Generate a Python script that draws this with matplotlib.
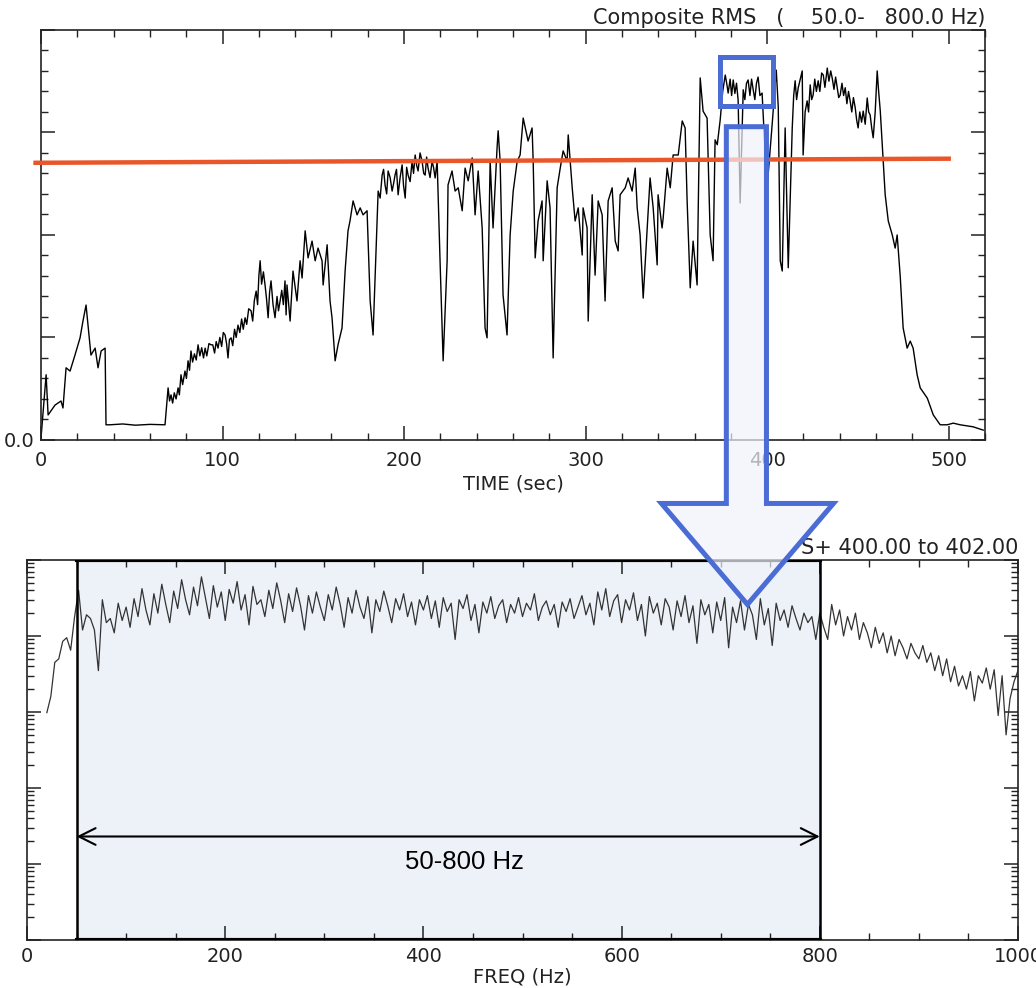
import matplotlib.pyplot as plt
import numpy as np
from matplotlib.patches import Polygon, Rectangle
from matplotlib.ticker import MultipleLocator, LogLocator, NullFormatter

# ---- top panel: composite RMS vs time ----
time_s = [0.0, 2.8, 3.9, 7.7, 11.0, 12.1, 13.8, 16.0, 18.7, 21.5, 23.1, 24.8, 25.9, 27.5, 29.8,
          31.4, 33.1, 35.3, 35.8, 38.0, 45.0, 52.0, 60.0, 68.3,
          70.0, 71.6, 75.5, 77.1, 79.3, 81.0, 82.6, 86.5, 90.4, 93.7, 97.5, 101.4, 103.0, 104.7,
          108.5, 112.4, 115.7, 118.5, 120.7, 123.4, 125.1, 126.7, 128.9, 131.7, 134.4, 135.0,
          135.5, 137.2, 138.8, 141.0, 142.7, 143.8, 145.5, 147.1, 149.3, 151.0, 152.6, 154.8,
          155.4, 157.6, 159.2, 160.3, 162.0, 163.6, 165.8, 167.5, 169.1, 170.2, 171.9, 174.1,
          175.8, 177.4, 179.6, 181.3, 182.9, 185.1, 185.7, 187.9, 189.5, 191.2, 193.4, 195.0,
          196.7, 198.9, 200.6, 202.2, 204.4, 206.1, 207.7, 209.9, 211.6, 213.2, 215.4, 217.1,
          218.2, 219.8, 221.5, 223.7, 224.2, 226.4, 228.1, 229.8, 232.0, 233.6, 235.3, 237.5,
          239.1, 240.8, 243.0, 244.6, 245.7, 247.4, 249.0, 251.2, 251.8, 252.9, 254.5, 256.7,
          258.4, 260.1, 262.3, 263.9, 265.6, 268.3, 270.5, 271.1, 272.2, 273.8, 276.0, 276.6,
          278.8, 280.4, 282.1, 284.3, 286.0, 287.6, 289.8, 290.4, 292.6, 294.2, 295.9, 298.1,
          298.6, 300.8, 301.4, 303.6, 305.2, 306.9, 309.1, 310.7, 312.4, 314.6, 316.3, 317.9,
          319.0, 321.8, 323.4, 325.6, 327.3, 328.4, 330.0, 331.7, 333.9, 335.5, 337.2, 339.4,
          339.9, 342.1, 342.7, 344.9, 346.6, 348.2, 351.0, 353.2, 354.8, 355.9, 357.6, 359.2,
          361.4, 363.1, 364.7, 366.9, 368.6, 370.2, 371.3, 372.5, 374.1, 376.9, 378.5, 381.3,
          384.0, 385.1, 386.8, 389.5, 392.3, 395.0, 397.2, 398.3, 400.0, 402.8, 405.0, 406.1,
          407.2, 408.3, 409.9, 411.6, 413.8, 415.4, 417.1, 419.3, 419.8, 422.0, 423.7, 425.3,
          428.1, 430.9, 433.1, 435.8, 438.6, 440.2, 443.0, 445.7, 448.5, 450.1, 452.9, 455.1,
          456.7, 458.4, 460.6, 462.3, 463.4, 465.0, 466.7, 468.9, 470.5, 471.6, 473.3, 474.9,
          477.1, 478.8, 480.4, 482.6, 484.3, 488.2, 491.5, 495.3, 499.2, 502.5, 506.3, 513.5, 519.0]
rms = [0.005, 0.159, 0.061, 0.085, 0.095, 0.078, 0.176, 0.168, 0.207, 0.249, 0.290, 0.329, 0.280, 0.207, 0.224,
       0.176, 0.217, 0.224, 0.037, 0.037, 0.039, 0.036, 0.038, 0.037,
       0.127, 0.110, 0.127, 0.159, 0.168, 0.193, 0.217, 0.232, 0.224, 0.232, 0.224, 0.256, 0.200, 0.249,
       0.280, 0.298, 0.315, 0.363, 0.437, 0.378, 0.298, 0.388, 0.298, 0.339, 0.388, 0.305,
       0.378, 0.290, 0.412, 0.339, 0.437, 0.395, 0.510, 0.444, 0.485, 0.437, 0.468, 0.437,
       0.378, 0.476, 0.339, 0.298, 0.193, 0.232, 0.273, 0.412, 0.510, 0.534, 0.583, 0.549,
       0.566, 0.549, 0.559, 0.339, 0.256, 0.534, 0.607, 0.646, 0.622, 0.656, 0.607, 0.646,
       0.598, 0.671, 0.590, 0.646, 0.680, 0.695, 0.656, 0.680, 0.646, 0.663, 0.680, 0.639,
       0.680, 0.437, 0.193, 0.437, 0.622, 0.656, 0.607, 0.615, 0.559, 0.663, 0.632, 0.688,
       0.549, 0.656, 0.517, 0.273, 0.249, 0.680, 0.517, 0.712, 0.754, 0.680, 0.354, 0.256,
       0.500, 0.607, 0.680, 0.695, 0.785, 0.729, 0.761, 0.680, 0.444, 0.534, 0.583, 0.437,
       0.632, 0.566, 0.200, 0.615, 0.663, 0.705, 0.680, 0.744, 0.615, 0.534, 0.566, 0.451,
       0.566, 0.517, 0.290, 0.598, 0.402, 0.583, 0.549, 0.339, 0.583, 0.615, 0.485, 0.461,
       0.598, 0.615, 0.639, 0.607, 0.663, 0.566, 0.500, 0.346, 0.517, 0.639, 0.566, 0.427,
       0.598, 0.517, 0.541, 0.663, 0.615, 0.695, 0.695, 0.778, 0.761, 0.583, 0.371, 0.485,
       0.378, 0.883, 0.802, 0.785, 0.500, 0.437, 0.732, 0.720, 0.780, 0.890, 0.846, 0.878,
       0.829, 0.578, 0.854, 0.878, 0.854, 0.885, 0.846, 0.749, 0.617, 0.773, 0.902, 0.812,
       0.437, 0.412, 0.761, 0.420, 0.761, 0.876, 0.859, 0.900, 0.695, 0.827, 0.866, 0.841,
       0.876, 0.890, 0.907, 0.883, 0.859, 0.841, 0.859, 0.827, 0.810, 0.761, 0.802, 0.834,
       0.793, 0.737, 0.900, 0.802, 0.720, 0.598, 0.534, 0.500, 0.468, 0.500, 0.398, 0.273,
       0.224, 0.241, 0.224, 0.159, 0.127, 0.102, 0.061, 0.037, 0.037, 0.041, 0.037, 0.032, 0.024]

time_fine = [70.8, 72.5, 73.4, 74.4, 76.2, 78.0, 80.1, 81.8, 83.5, 84.5, 85.5, 87.5, 88.5, 89.5,
             91.3, 92.5, 94.6, 95.6, 96.5, 98.5, 99.5, 100.4, 102.2, 103.8, 105.6, 106.6, 107.5,
             109.5, 110.5, 111.4, 113.3, 114.4, 116.6, 117.5, 119.3, 120.0, 121.5, 122.5, 124.2,
             125.9, 127.8, 130.0, 130.8, 132.6, 133.5,
             186.8, 188.7, 190.4, 192.3, 194.2, 195.8, 197.8, 199.7, 201.4, 203.3, 205.2, 206.9,
             208.8, 210.8, 212.4, 214.3, 216.2,
             375.5, 377.7, 379.6, 380.4, 382.2, 383.1, 387.7, 388.6, 390.5, 391.4, 393.2, 394.1, 396.0,
             414.6, 416.2, 418.2, 420.9, 422.8, 424.5, 426.2, 427.1, 429.0, 430.0, 431.8, 434.0,
             435.0, 436.8, 437.7, 439.4, 441.2, 442.1, 443.9, 444.8, 446.6, 447.5, 449.3, 451.0,
             452.0, 454.0, 455.9, 457.6, 459.5, 461.4]
rms_fine = [0.095, 0.090, 0.115, 0.100, 0.110, 0.135, 0.150, 0.170, 0.190, 0.210, 0.195, 0.205, 0.225, 0.200,
            0.205, 0.235, 0.232, 0.212, 0.240, 0.250, 0.228, 0.262, 0.235, 0.245, 0.230, 0.270, 0.250,
            0.262, 0.295, 0.270, 0.282, 0.320, 0.290, 0.340, 0.330, 0.400, 0.380, 0.410, 0.345,
            0.360, 0.330, 0.350, 0.315, 0.365, 0.330,
            0.590, 0.660, 0.600, 0.640, 0.625, 0.660, 0.640, 0.620, 0.665, 0.630, 0.650, 0.670,
            0.700, 0.650, 0.690, 0.640, 0.665,
            0.850, 0.870, 0.880, 0.840, 0.845, 0.870, 0.830, 0.870, 0.840, 0.880, 0.830, 0.870, 0.840,
            0.840, 0.830, 0.880, 0.800, 0.800, 0.830, 0.880, 0.850, 0.850, 0.895, 0.860, 0.875,
            0.900, 0.855, 0.885, 0.835, 0.870, 0.840, 0.820, 0.850, 0.800, 0.835, 0.780, 0.800,
            0.775, 0.770, 0.800, 0.760, 0.800, 0.850]

threshold_t = [-3, 500]
threshold_v = [0.676, 0.686]

# ---- bottom panel: spectrum 400.00 to 402.00 s, 4 Hz bins starting at 20 Hz ----
f_start, f_step = 20, 4
spectrum = [0.098, 0.16, 0.45, 0.50, 0.85, 0.95, 0.65, 1.8,
            4.0, 1.2, 1.9, 1.7, 1.2, 0.35, 3.0, 1.5, 1.7, 1.1, 2.7, 1.6,
            2.4, 1.3, 3.1, 1.8, 4.2, 2.2, 1.4, 3.6, 2.0, 4.8, 2.6, 1.5, 3.9, 2.3, 5.5, 3.0, 1.9, 4.4, 2.5, 6.0, 3.2, 1.7, 4.6, 2.4, 3.8,
            1.6, 4.1, 2.7, 5.2, 2.2, 3.5, 1.4, 4.5, 2.6, 3.0, 1.8, 4.0, 2.3, 5.0, 2.9, 1.5, 3.6, 2.1, 4.3, 2.5, 1.2, 3.4, 2.0, 3.8, 2.4,
            1.6, 3.5, 2.2, 4.4, 2.6, 1.3, 3.2, 2.0, 4.0, 2.4, 1.7, 3.3, 1.1, 3.0, 2.1, 3.9, 2.5, 1.5, 3.1, 2.2, 3.6, 1.8, 2.8, 1.4, 3.0,
            2.2, 3.4, 1.7, 2.9, 1.3, 3.2, 2.1, 2.7, 0.9, 3.0, 2.3, 3.5, 1.6, 2.6, 1.1, 2.8, 2.0, 3.3, 1.7, 2.5, 3.0, 1.5, 2.6, 2.0, 3.2,
            1.8, 2.7, 2.2, 3.6, 1.6, 2.4, 2.9, 1.9, 2.6, 1.3, 2.8, 2.1, 3.1, 1.7, 2.4, 3.4, 1.9, 2.7, 1.4, 3.8, 2.2, 4.2, 1.8, 2.9, 3.5,
            1.5, 3.0, 2.2, 3.7, 1.6, 2.6, 1.0, 3.3, 2.0, 2.7, 1.4, 3.1, 2.4, 1.2, 2.9, 1.8, 3.4, 1.5, 2.5, 0.8, 3.0, 1.9, 2.6, 1.1, 2.8,
            1.6, 3.2, 0.7, 2.4, 1.5, 2.9, 1.2, 2.6, 1.9, 0.9, 3.1, 1.4, 2.3, 0.75, 2.7, 1.6, 2.2, 1.3, 2.5, 1.7, 1.2, 2.0, 1.5, 1.8, 0.9,
            2.0, 1.3, 0.9, 2.6, 1.4, 2.2, 1.0, 1.8, 1.2, 2.0, 0.9, 1.5, 1.1, 0.7, 1.3, 0.8, 1.1, 0.6, 1.0, 0.55, 0.9, 0.7, 0.5, 0.8, 0.6,
            0.5, 0.75, 0.45, 0.6, 0.35, 0.55, 0.3, 0.5, 0.25, 0.4, 0.22, 0.3, 0.2, 0.34, 0.14, 0.3, 0.24, 0.38, 0.2, 0.36, 0.09, 0.3, 0.05, 0.15, 0.25, 0.35]
freq = f_start + f_step * np.arange(len(spectrum))

band_lo, band_hi = 50, 800
band_label = "50-800 Hz"

BLUE = '#4a6cd4'
RED = '#e8562a'
INK = '#222222'

# merge coarse and fine readings in time order
t_all = np.array(time_s + time_fine)
v_all = np.array(rms + rms_fine)
order = np.argsort(t_all)
t_all, v_all = t_all[order], v_all[order]

plt.rcParams['font.family'] = ['DejaVu Sans']
fig = plt.figure(figsize=(10.36, 9.88), dpi=100)

# ---------------- top axes ----------------
ax1 = fig.add_axes([0.0396, 0.5547, 0.9112, 0.4150])
ax1.plot(t_all, v_all, color='black', lw=1.0)
ax1.plot(threshold_t, threshold_v, color=RED, lw=3.2, clip_on=False, zorder=4)
ax1.set_xlim(0, 520)
ax1.set_ylim(0, 1.0)
ax1.xaxis.set_major_locator(MultipleLocator(100))
ax1.xaxis.set_minor_locator(MultipleLocator(20))
ax1.yaxis.set_minor_locator(MultipleLocator(0.05))
ax1.set_yticks([0, 0.25, 0.5, 0.75, 1.0])
ax1.set_yticklabels(['0.0', '', '', '', ''])
ax1.set_xlabel('TIME (sec)', fontsize=14, color=INK, labelpad=3)
ax1.set_title('Composite RMS   (    50.0-   800.0 Hz)', loc='right', fontsize=15, color=INK, pad=4)

# small box around the selected window
ax1.add_patch(Rectangle((374.1, 0.815), 29.2, 0.119, fill=False, ec=BLUE, lw=3.6,
                        clip_on=False, zorder=6))

# ---------------- bottom axes ----------------
ax2 = fig.add_axes([0.0261, 0.0486, 0.9565, 0.3846])
ax2.axvspan(band_lo, band_hi, color='#edf1f8', zorder=0)
ax2.plot(freq, spectrum, color='#333333', lw=0.9, zorder=2)
ax2.axvline(band_lo, color='black', lw=1.8, zorder=3)
ax2.axvline(band_hi, color='black', lw=1.8, zorder=3)
ax2.plot([band_lo, band_hi], [10, 10], color='black', lw=3, zorder=3)
ax2.plot([band_lo, band_hi], [1e-4, 1e-4], color='black', lw=3, zorder=3)
ax2.set_yscale('log')
ax2.set_xlim(0, 1000)
ax2.set_ylim(1e-4, 10)
ax2.xaxis.set_major_locator(MultipleLocator(200))
ax2.xaxis.set_minor_locator(MultipleLocator(50))
ax2.yaxis.set_major_locator(LogLocator(base=10, numticks=10))
ax2.yaxis.set_minor_locator(LogLocator(base=10, subs=np.arange(2, 10), numticks=10))
ax2.yaxis.set_major_formatter(NullFormatter())
ax2.yaxis.set_minor_formatter(NullFormatter())
ax2.set_xlabel('FREQ (Hz)', fontsize=14, color=INK, labelpad=1)
ax2.set_title('S+ 400.00 to 402.00', loc='right', fontsize=15, color=INK, pad=4)

ax2.annotate('', xy=(band_hi, 2.3e-3), xytext=(band_lo, 2.3e-3),
             arrowprops=dict(arrowstyle='<->', color='black', lw=1.5, mutation_scale=30,
                             shrinkA=0, shrinkB=0), zorder=5)
ax2.text(441, 1.07e-3, band_label, ha='center', va='center',
         fontsize=18.5, family='Liberation Sans', color='black')

for ax in (ax1, ax2):
    ax.tick_params(which='both', direction='in', top=True, right=True, colors=INK,
                   labelsize=14, pad=5)
    ax.tick_params(which='major', length=10, width=1.1)
    ax.tick_params(which='minor', length=5, width=1.0)
    for s in ax.spines.values():
        s.set_linewidth(1.2)
        s.set_color(INK)
ax1.tick_params(axis='x', which='both', pad=8)

# ---------------- big arrow from the window down to the spectrum ----------------
ov = fig.add_axes([0, 0, 1, 1], zorder=10)
ov.set_xlim(0, 1036)
ov.set_ylim(988, 0)
ov.axis('off')

H = 988
def to_px(ax, x, y):
    dx, dy = ax.transData.transform((x, y))
    return dx, H - dy

sl, top = to_px(ax1, 377.5, 0.764)
sr, _ = to_px(ax1, 399.6, 0.764)
tipx, tipy = to_px(ax2, 727, 2.6)
head_h, head_w = 101, 86
base_y = tipy - head_h
shaft = [(sl, top), (sr, top), (sr, base_y), (tipx + head_w, base_y), (tipx, tipy),
         (tipx - head_w, base_y), (sl, base_y)]
ov.add_patch(Polygon(shaft, closed=True, fc='#f2f3fb', alpha=0.7, ec='none'))
ov.add_patch(Polygon(shaft, closed=True, fill=False, ec=BLUE, lw=3.6, joinstyle='miter'))

fig.savefig('out.png', dpi=100)
